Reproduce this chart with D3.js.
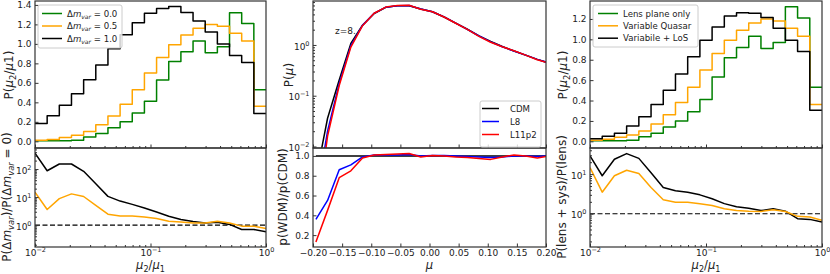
<!DOCTYPE html>
<html>
<head>
<meta charset="utf-8">
<script src="https://cdn.jsdelivr.net/npm/d3@7"></script>
<style>
body { margin: 0; background: #fff; }
svg text { font-family: "DejaVu Sans", sans-serif; fill: #222; }
</style>
</head>
<body>
<div id="chart"></div>
<script>
// Histogram bin edges (log spaced, 0.01 .. 1)
var edges = [0.01, 0.012743, 0.016238, 0.020691, 0.026367, 0.033598, 0.042813, 0.054556, 0.069519,
    0.088587, 0.11288, 0.14384, 0.18330, 0.23357, 0.29764, 0.37927, 0.48329, 0.61585, 0.78476, 1.0];

// Histogram heights P(mu2/mu1), one per bin
var histLens = [0.005, 0.005, 0.006, 0.01, 0.045, 0.08, 0.14, 0.20, 0.29, 0.41, 0.63, 0.82, 0.92, 1.03, 0.91, 0.97, 1.32, 1.21, 0.53];
var histVarQ = [0.01, 0.02, 0.04, 0.062, 0.10, 0.17, 0.26, 0.38, 0.53, 0.70, 0.86, 0.99, 1.09, 1.16, 1.20, 1.18, 1.11, 1.03, 0.36];
var histDm1 = [0.183, 0.262, 0.369, 0.487, 0.631, 0.783, 0.949, 1.094, 1.218, 1.315, 1.363, 1.384, 1.322, 1.235, 1.121, 1.0, 0.88, 0.81, 0.286];
var histLoS = [0.026, 0.05, 0.08, 0.15, 0.24, 0.36, 0.50, 0.66, 0.83, 0.99, 1.12, 1.23, 1.26, 1.255, 1.215, 1.11, 0.99, 0.88, 0.305];

// Ratios, one per bin edge
var ratioDm1 = [370, 87, 151, 151, 83, 30, 10.6, 7.2, 5.5, 4.1, 2.95, 2.08, 1.58, 1.35, 1.2, 1.27, 1.06, 0.7, 0.7, 0.58];
var ratioDm05 = [15, 3.6, 8.8, 13, 10.5, 5.1, 2.45, 2.1, 2.1, 1.96, 1.72, 1.38, 1.28, 1.2, 1.2, 1.38, 1.2, 0.92, 0.92, 0.76];
var ratioLoS = [29, 9.1, 23.7, 33, 25, 10.8, 4.6, 3.8, 3.5, 3.0, 2.4, 1.8, 1.5, 1.38, 1.2, 1.33, 1.16, 0.75, 0.72, 0.62];
var ratioVarQ = [14.6, 3.5, 9.1, 12.5, 10.4, 4.6, 2.25, 1.96, 1.96, 1.78, 1.62, 1.33, 1.2, 1.16, 1.14, 1.26, 1.14, 0.86, 0.83, 0.68];

// Magnification distribution at z=8
var muGrid = [-0.195, -0.175, -0.155, -0.135, -0.115, -0.095, -0.075, -0.055, -0.035, -0.015, 0.005,
    0.025, 0.045, 0.065, 0.085, 0.105, 0.125, 0.145, 0.165, 0.185, 0.205];
var pCDM = [0.0024, 0.036, 0.204, 1.07, 2.45, 4.17, 5.5, 5.9, 5.9, 5.1, 4.5, 3.55, 2.7, 2.04, 1.51, 1.17, 0.93, 0.76, 0.63, 0.52, 0.44];
var pL8 = [0.00086, 0.020, 0.175, 0.97, 2.43, 4.2, 5.55, 5.95, 5.98, 5.1, 4.52, 3.57, 2.7, 2.03, 1.5, 1.15, 0.92, 0.76, 0.63, 0.52, 0.44];
var pL11 = [0.0003, 0.016, 0.159, 0.91, 2.4, 4.21, 5.58, 6.0, 6.05, 5.07, 4.52, 3.55, 2.68, 2.02, 1.48, 1.13, 0.92, 0.77, 0.63, 0.51, 0.44];
var rCDM = [1, 1, 1, 1, 1, 1, 1, 1, 1, 1, 1, 1, 1, 1, 1, 1, 1, 1, 1, 1, 1];
var rL8 = [0.36, 0.55, 0.86, 0.91, 0.99, 1.01, 1.01, 1.01, 1.015, 1.0, 1.005, 1.005, 1.0, 0.995, 0.99, 0.985, 0.99, 1.0, 1.0, 0.995, 1.0];
var rL11 = [0.13, 0.45, 0.78, 0.85, 0.98, 1.01, 1.015, 1.02, 1.025, 0.99, 1.005, 1.0, 0.99, 0.985, 0.975, 0.965, 0.99, 1.01, 1.0, 0.98, 1.0];

// Tick values
var histTicksL = [0, 0.2, 0.4, 0.6, 0.8, 1.0, 1.2, 1.4];
var histTicksR = [0, 0.2, 0.4, 0.6, 0.8, 1.0, 1.2];
var logTicksX = [0.01, 0.1, 1];
var muTicks = [-0.2, -0.15, -0.1, -0.05, 0, 0.05, 0.1, 0.15, 0.2];
var ratioTicksM = [0.2, 0.4, 0.6, 0.8, 1.0];

var green = "#008000", orange = "#FFA500";

var svg = d3.select("#chart").append("svg")
    .attr("width", 830)
    .attr("height", 274);
var defs = svg.append("defs");

// Scales
var xL = d3.scaleLog().domain([0.01, 1]).range([35, 266]);
var xR = d3.scaleLog().domain([0.01, 1]).range([590, 822]);
var xM = d3.scaleLinear().domain([-0.2, 0.2]).range([313, 546]);
var yHistL = d3.scaleLinear().domain([-0.0685, 1.44]).range([148, 1]);
var yHistR = d3.scaleLinear().domain([-0.0655, 1.376]).range([148, 1]);
var yPmu = d3.scaleLog().domain([Math.pow(10, -2.03), Math.pow(10, 0.866)]).range([148, 1]);
var yRatL = d3.scaleLog().domain([Math.pow(10, -0.78), Math.pow(10, 2.75)]).range([247, 148]);
var yRatR = d3.scaleLog().domain([Math.pow(10, -0.84), Math.pow(10, 1.66)]).range([247, 148]);
var yRatM = d3.scaleLinear().domain([0.08, 1.08]).range([247, 148]);

// minor ticks for log scales
function logMinors(scale) {
    var d = scale.domain(), out = [];
    for (var e = -3; e <= 3; e++) {
        for (var m = 2; m <= 9; m++) {
            var v = m * Math.pow(10, e);
            if (v > d[0] && v < d[1]) out.push(v);
        }
    }
    return out;
}

// clipped plotting group
function panel(id, xs, ys) {
    var r = [xs.range()[0], xs.range()[1]], s = ys.range();
    defs.append("clipPath").attr("id", id).append("rect")
        .attr("x", r[0]).attr("y", s[1])
        .attr("width", r[1] - r[0]).attr("height", s[0] - s[1]);
    return svg.append("g").attr("clip-path", "url(#" + id + ")");
}

function frame(xs, ys) {
    svg.append("rect")
        .attr("x", xs.range()[0]).attr("y", ys.range()[1])
        .attr("width", xs.range()[1] - xs.range()[0])
        .attr("height", ys.range()[0] - ys.range()[1])
        .attr("fill", "none").attr("stroke", "#333").attr("stroke-width", 1.2);
}

function supExp(sel) {
    sel.each(function (d) {
        var e = Math.round(Math.log10(d));
        d3.select(this).text("10").append("tspan")
            .attr("dy", -4).attr("font-size", 6.5)
            .text(String(e).replace("-", "\u2212"));
    });
}

// side: left/bottom, fmt: null (no labels), "log" or a formatter
function drawAxis(side, pos, scale, major, minor, fmt) {
    var gen = side == "left" ? d3.axisLeft(scale) : d3.axisBottom(scale);
    var g = svg.append("g")
        .attr("transform", side == "left" ? "translate(" + pos + ",0)" : "translate(0," + pos + ")");
    if (minor) {
        g.append("g").call(gen.tickValues(minor).tickSize(-2).tickFormat(""));
    }
    var gm = g.append("g").call(gen.tickValues(major).tickSize(-3.5)
        .tickPadding(side == "left" ? 3.5 : 2.5)
        .tickFormat(fmt == null ? "" : (fmt == "log" ? function () { return "10"; } : fmt)));
    g.selectAll(".domain").remove();
    g.selectAll("line").attr("stroke", "#333");
    gm.selectAll("text").attr("font-size", 9).attr("fill", "#222");
    if (fmt == "log") {
        supExp(gm.selectAll("text"));
        if (side == "left") gm.selectAll("text").attr("dy", "0.45em");
    }
}

// text with italic / sub parts
function rich(sel, parts, size) {
    var off = 0;
    parts.forEach(function (p) {
        var target = p.sub ? size * 0.25 : 0;
        var t = sel.append("tspan").text(p.t);
        if (target != off) t.attr("dy", target - off);
        off = target;
        if (p.i) t.attr("font-style", "italic");
        if (p.sub) t.attr("font-size", size * 0.7);
    });
    return sel;
}

function ylabel(x, y, parts) {
    var t = svg.append("text")
        .attr("x", x).attr("y", y)
        .attr("transform", "rotate(-90," + x + "," + y + ")")
        .attr("text-anchor", "middle")
        .attr("font-size", 12);
    rich(t, parts, 12);
}

function xlabel(x, y, parts) {
    var t = svg.append("text")
        .attr("x", x).attr("y", y)
        .attr("text-anchor", "middle")
        .attr("font-size", 11.5);
    rich(t, parts, 11.5);
}

function legend(x, y, w, h, rows, items) {
    var g = svg.append("g");
    g.append("rect").attr("x", x).attr("y", y).attr("width", w).attr("height", h)
        .attr("rx", 2).attr("fill", "white").attr("fill-opacity", 0.8)
        .attr("stroke", "#cccccc").attr("stroke-width", 1);
    items.forEach(function (it, i) {
        g.append("line")
            .attr("x1", it.lx[0]).attr("x2", it.lx[1])
            .attr("y1", rows[i]).attr("y2", rows[i])
            .attr("stroke", it.color).attr("stroke-width", 1.5);
        var t = g.append("text").attr("x", it.tx).attr("y", rows[i] + 3.2).attr("font-size", 8.6);
        rich(t, it.parts, 8.6);
    });
}

function steps(vals) {
    var pts = vals.map(function (v, i) { return [edges[i], v]; });
    pts.push([edges[vals.length], vals[vals.length - 1]]);
    return pts;
}

function plotLine(g, xs, ys, xv, yv, color, lw, curve, dash) {
    var line = d3.line()
        .x(function (d) { return xs(d[0]); })
        .y(function (d) { return ys(d[1]); });
    if (curve) line.curve(curve);
    g.append("path")
        .datum(d3.zip(xv, yv))
        .attr("d", line)
        .attr("fill", "none")
        .attr("stroke", color)
        .attr("stroke-width", lw)
        .attr("stroke-dasharray", dash || null)
        .attr("stroke-linejoin", "round");
}

function histPanel(id, xs, ys, series) {
    var g = panel(id, xs, ys);
    series.forEach(function (s) {
        var pts = steps(s[0]);
        plotLine(g, xs, ys, pts.map(function (p) { return p[0]; }), pts.map(function (p) { return p[1]; }),
            s[1], 1.5, d3.curveStepAfter);
    });
}

function ratioPanel(id, xs, ys, series) {
    var g = panel(id, xs, ys);
    plotLine(g, xs, ys, [0.01, 1], [1, 1], "black", 1.2, null, "5,2.5");
    series.forEach(function (s) {
        plotLine(g, xs, ys, edges, s[0], s[1], 1.5);
    });
}

// ---- Left column ----
histPanel("c1", xL, yHistL, [[histLens, green], [histVarQ, orange], [histDm1, "black"]]);
ratioPanel("c2", xL, yRatL, [[ratioDm1, "black"], [ratioDm05, orange]]);

// ---- Right column ----
histPanel("c3", xR, yHistR, [[histLens, green], [histVarQ, orange], [histLoS, "black"]]);
ratioPanel("c4", xR, yRatR, [[ratioLoS, "black"], [ratioVarQ, orange]]);

// ---- Middle column ----
var gTop = panel("c5", xM, yPmu);
plotLine(gTop, xM, yPmu, muGrid, pCDM, "black", 1.5);
plotLine(gTop, xM, yPmu, muGrid, pL8, "blue", 1.5);
plotLine(gTop, xM, yPmu, muGrid, pL11, "red", 1.5);
var gBot = panel("c6", xM, yRatM);
plotLine(gBot, xM, yRatM, muGrid, rCDM, "black", 1.5);
plotLine(gBot, xM, yRatM, muGrid, rL8, "blue", 1.5);
plotLine(gBot, xM, yRatM, muGrid, rL11, "red", 1.5);

svg.append("text").attr("x", 335).attr("y", 34).attr("font-size", 9).text("z=8.");

// Axes
var f1 = d3.format(".1f"), f2 = d3.format(".2f");
drawAxis("left", 35, yHistL, histTicksL, null, f1);
drawAxis("bottom", 148, xL, logTicksX, logMinors(xL), null);
drawAxis("left", 35, yRatL, [1, 10, 100], logMinors(yRatL), "log");
drawAxis("bottom", 247, xL, logTicksX, logMinors(xL), "log");

drawAxis("left", 590, yHistR, histTicksR, null, f1);
drawAxis("bottom", 148, xR, logTicksX, logMinors(xR), null);
drawAxis("left", 590, yRatR, [1, 10], logMinors(yRatR), "log");
drawAxis("bottom", 247, xR, logTicksX, logMinors(xR), "log");

drawAxis("left", 313, yPmu, [0.01, 0.1, 1], logMinors(yPmu), "log");
drawAxis("bottom", 148, xM, muTicks, null, null);
drawAxis("left", 313, yRatM, ratioTicksM, null, f1);
drawAxis("bottom", 247, xM, muTicks, null, f2);

frame(xL, yHistL); frame(xL, yRatL);
frame(xR, yHistR); frame(xR, yRatR);
frame(xM, yPmu); frame(xM, yRatM);

// Legends
var dm = function (v) { return [{ t: "\u0394" }, { t: "m", i: 1 }, { t: "var", i: 1, sub: 1 }, { t: " = " + v }]; };
legend(38, 5, 84, 43, [13.5, 26, 38.5], [
    { lx: [42, 62], tx: 67, color: green, parts: dm("0.0") },
    { lx: [42, 62], tx: 67, color: orange, parts: dm("0.5") },
    { lx: [42, 62], tx: 67, color: "black", parts: dm("1.0") }
]);
legend(593, 5, 105, 42, [13.5, 25.8, 38.2], [
    { lx: [598, 618], tx: 623, color: green, parts: [{ t: "Lens plane only" }] },
    { lx: [598, 618], tx: 623, color: orange, parts: [{ t: "Variable Quasar" }] },
    { lx: [598, 618], tx: 623, color: "black", parts: [{ t: "Variabile + LoS" }] }
]);
legend(480, 101, 61, 46, [108.5, 121.5, 134.5], [
    { lx: [482, 499], tx: 510, color: "black", parts: [{ t: "CDM" }] },
    { lx: [482, 499], tx: 510, color: "blue", parts: [{ t: "L8" }] },
    { lx: [482, 499], tx: 510, color: "red", parts: [{ t: "L11p2" }] }
]);

// Axis labels
var pmu = [{ t: "P(" }, { t: "\u03bc", i: 1 }, { t: "2", sub: 1 }, { t: "/" }, { t: "\u03bc", i: 1 }, { t: "1)" }];
var mu21 = [{ t: "\u03bc", i: 1 }, { t: "2", sub: 1 }, { t: "/" }, { t: "\u03bc", i: 1 }, { t: "1", sub: 1 }];
ylabel(13, 75, pmu);
ylabel(11, 197, [{ t: "P(\u0394" }, { t: "m", i: 1 }, { t: "var", i: 1, sub: 1 }, { t: ")/P(\u0394" },
    { t: "m", i: 1 }, { t: "var", i: 1, sub: 1 }, { t: " = 0)" }]);
ylabel(293, 75, [{ t: "P(" }, { t: "\u03bc", i: 1 }, { t: ")" }]);
ylabel(287, 197, [{ t: "p(WDM)/p(CDM)" }]);
ylabel(567, 75, pmu);
ylabel(566, 197, [{ t: "P(lens + sys)/P(lens)" }]);
xlabel(150.5, 269, mu21);
xlabel(429.5, 269, [{ t: "\u03bc", i: 1 }]);
xlabel(706, 269, mu21);
</script>
</body>
</html>
